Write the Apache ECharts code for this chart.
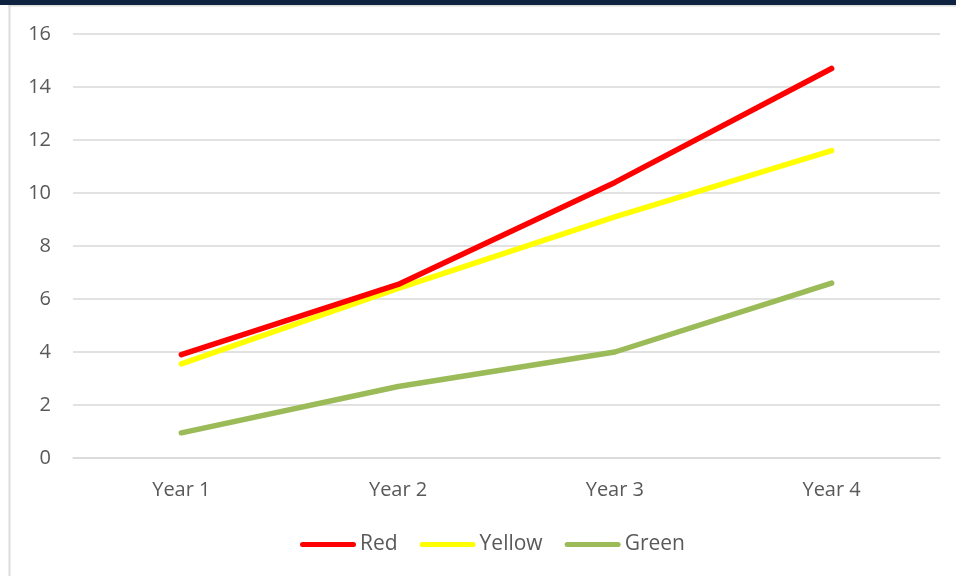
<!DOCTYPE html>
<html>
<head>
<meta charset="utf-8">
<script src="https://cdn.jsdelivr.net/npm/echarts@6/dist/echarts.min.js"></script>
<style>
  html, body { margin: 0; padding: 0; background: #ffffff; }
  #chart { width: 956px; height: 576px; }
</style>
</head>
<body>
<div id="chart"></div>
<script>
// Categories and series values
var categories = ['Year 1', 'Year 2', 'Year 3', 'Year 4'];
var redValues = [3.9, 6.55, 10.4, 14.7];
var yellowValues = [3.55, 6.4, 9.1, 11.6];
var greenValues = [0.95, 2.7, 4.0, 6.6];
var yTicks = { min: 0, max: 16, interval: 2 };

var seriesNames = ['Red', 'Yellow', 'Green'];
var seriesColors = ['#ff0000', '#ffff00', '#9bbb59'];
var seriesData = [redValues, yellowValues, greenValues];

var textColor = '#595959';
var gridColor = '#d9d9d9';
var fontFamily = '"Open Sans", "Noto Sans", sans-serif';

// Rounded bar used as the legend key
var legendIcon = 'path://M2.5,0 L53.5,0 A2.5,2.5 0 0 1 53.5,5 L2.5,5 A2.5,2.5 0 0 1 2.5,0 Z';

var chart = echarts.init(document.getElementById('chart'), null, { renderer: 'canvas' });

chart.setOption({
  backgroundColor: '#ffffff',
  animation: false,
  textStyle: { fontFamily: fontFamily },
  graphic: [
    // dark band along the top edge
    { type: 'rect', shape: { x: 0, y: 0, width: 956, height: 5 }, style: { fill: '#0f2341' }, z: 10 },
    // thin frame lines
    { type: 'rect', shape: { x: 8, y: 5, width: 948, height: 1.5 }, style: { fill: '#dcdcdc' }, z: 10 },
    { type: 'rect', shape: { x: 8.5, y: 5, width: 2, height: 571 }, style: { fill: '#dcdcdc' }, z: 10 }
  ],
  grid: { left: 73, right: 16, top: 34, bottom: 118, containLabel: false },
  legend: {
    data: seriesNames,
    bottom: 16,
    left: 295,
    itemWidth: 56,
    itemHeight: 5,
    itemGap: 22,
    icon: legendIcon,
    textStyle: { color: textColor, fontSize: 21, fontFamily: fontFamily, padding: [0, 0, 0, -1] }
  },
  xAxis: {
    type: 'category',
    data: categories,
    boundaryGap: true,
    axisLine: { show: true, lineStyle: { color: gridColor, width: 1.5 } },
    axisTick: { show: false },
    axisLabel: { color: textColor, fontSize: 20, margin: 22, fontFamily: fontFamily },
    splitLine: { show: false }
  },
  yAxis: {
    type: 'value',
    min: yTicks.min,
    max: yTicks.max,
    interval: yTicks.interval,
    axisLine: { show: false },
    axisTick: { show: false },
    axisLabel: { color: textColor, fontSize: 20, margin: 22, fontFamily: fontFamily },
    splitLine: { show: true, lineStyle: { color: gridColor, width: 1.5 } }
  },
  series: seriesNames.map(function (name, i) {
    return {
      name: name,
      type: 'line',
      data: seriesData[i],
      symbol: 'none',
      smooth: false,
      color: seriesColors[i],
      lineStyle: { color: seriesColors[i], width: 5.5, cap: 'round', join: 'round' },
      z: 3 - i
    };
  })
});
</script>
</body>
</html>
